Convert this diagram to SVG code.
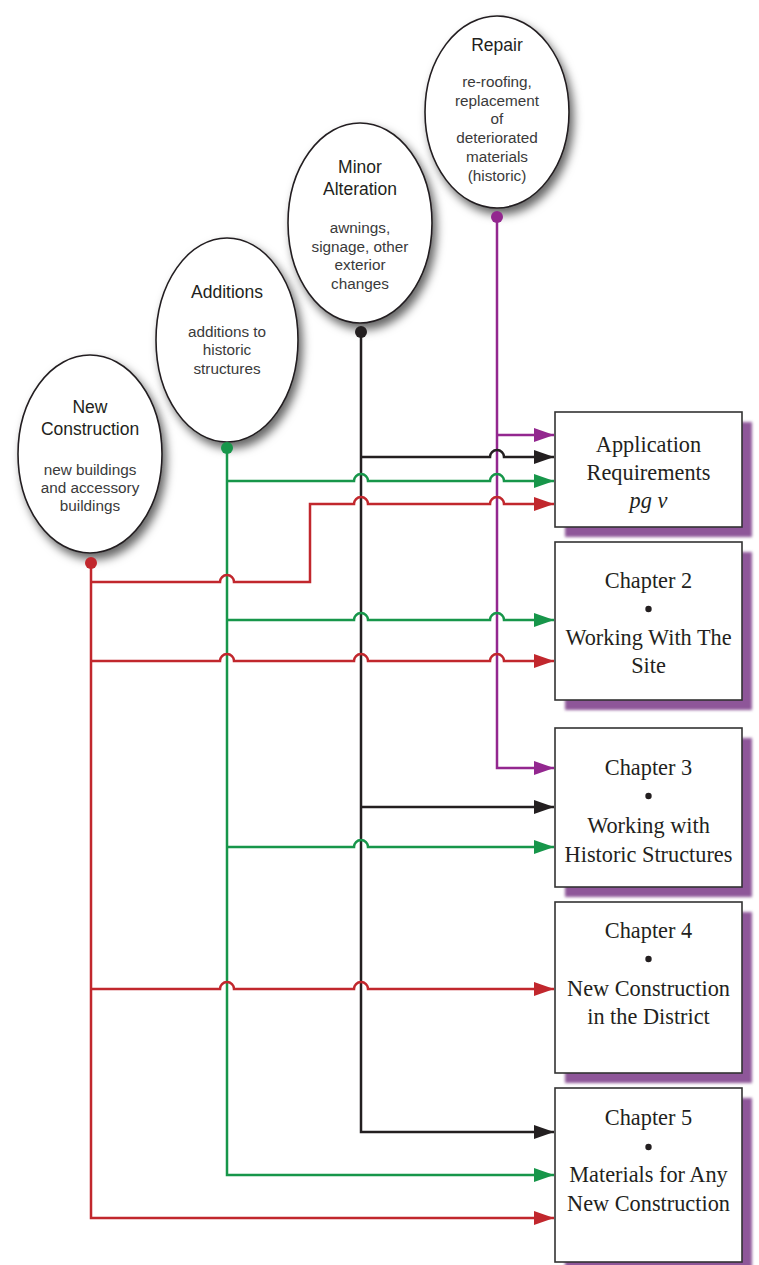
<svg xmlns="http://www.w3.org/2000/svg" width="759" height="1265" viewBox="0 0 759 1265">
<style>
.ell{fill:#fff;stroke:#231f20;stroke-width:1.6;filter:url(#eshadow)}
.box{fill:#fff;stroke:#333;stroke-width:1.6}
.boxsh{fill:#8e5799;filter:url(#bshadow)}
.t{font-family:"Liberation Sans",Arial,sans-serif;font-size:17.5px;fill:#231f20;text-anchor:middle}
.d{font-family:"Liberation Sans",Arial,sans-serif;font-size:15.3px;fill:#3a3a3a;text-anchor:middle}
.b{font-family:"Liberation Serif","Times New Roman",serif;font-size:22.3px;fill:#231f20;text-anchor:middle}
.dot{fill:#231f20}
.c{fill:none;stroke-width:2.5}
.pu{stroke:#93278f}.bk{stroke:#231f20}.gr{stroke:#17964a}.rd{stroke:#c1272d}
</style>
<defs>
<filter id="eshadow" x="-25%" y="-25%" width="160%" height="160%">
<feDropShadow dx="4" dy="6" stdDeviation="5" flood-color="#000" flood-opacity="0.6"/>
</filter>
<filter id="bshadow" x="-10%" y="-10%" width="120%" height="120%">
<feGaussianBlur stdDeviation="1.8"/>
</filter>
<marker id="apu" viewBox="0 0 20 14" refX="20" refY="7" markerWidth="20" markerHeight="14" markerUnits="userSpaceOnUse" orient="auto"><path d="M0,0 L20,7 L0,14 Z" fill="#93278f"/></marker>
<marker id="abk" viewBox="0 0 20 14" refX="20" refY="7" markerWidth="20" markerHeight="14" markerUnits="userSpaceOnUse" orient="auto"><path d="M0,0 L20,7 L0,14 Z" fill="#231f20"/></marker>
<marker id="agr" viewBox="0 0 20 14" refX="20" refY="7" markerWidth="20" markerHeight="14" markerUnits="userSpaceOnUse" orient="auto"><path d="M0,0 L20,7 L0,14 Z" fill="#17964a"/></marker>
<marker id="ard" viewBox="0 0 20 14" refX="20" refY="7" markerWidth="20" markerHeight="14" markerUnits="userSpaceOnUse" orient="auto"><path d="M0,0 L20,7 L0,14 Z" fill="#c1272d"/></marker>
</defs>

<g id="node-repair">
<ellipse class="ell" cx="497" cy="112" rx="72" ry="96"/>
<text class="t" x="497" y="51">Repair</text>
<text class="d" x="497" y="87">re-roofing,</text>
<text class="d" x="497" y="106">replacement</text>
<text class="d" x="497" y="124">of</text>
<text class="d" x="497" y="143">deteriorated</text>
<text class="d" x="497" y="162">materials</text>
<text class="d" x="497" y="181">(historic)</text>
</g>
<g id="node-minor">
<ellipse class="ell" cx="360" cy="223" rx="72" ry="100"/>
<text class="t" x="360" y="173">Minor</text>
<text class="t" x="360" y="195">Alteration</text>
<text class="d" x="360" y="233">awnings,</text>
<text class="d" x="360" y="252">signage, other</text>
<text class="d" x="360" y="270">exterior</text>
<text class="d" x="360" y="289">changes</text>
</g>
<g id="node-additions">
<ellipse class="ell" cx="227" cy="340" rx="71" ry="102"/>
<text class="t" x="227" y="298">Additions</text>
<text class="d" x="227" y="337">additions to</text>
<text class="d" x="227" y="355">historic</text>
<text class="d" x="227" y="374">structures</text>
</g>
<g id="node-new">
<ellipse class="ell" cx="90" cy="454" rx="72" ry="99"/>
<text class="t" x="90" y="413">New</text>
<text class="t" x="90" y="435">Construction</text>
<text class="d" x="90" y="475">new buildings</text>
<text class="d" x="90" y="493">and accessory</text>
<text class="d" x="90" y="511">buildings</text>
</g>

<g id="box-app">
<rect class="boxsh" x="565" y="422" width="187" height="115"/>
<rect class="box" x="555" y="412" width="187" height="115"/>
<text class="b" x="648.5" y="452">Application</text>
<text class="b" x="648.5" y="480">Requirements</text>
<text class="b" x="648.5" y="508" font-style="italic">pg v</text>
</g>
<g id="box-ch2">
<rect class="boxsh" x="565" y="552" width="187" height="158"/>
<rect class="box" x="555" y="542" width="187" height="158"/>
<text class="b" x="648.5" y="588">Chapter 2</text>
<circle class="dot" cx="648.5" cy="609" r="3.2"/>
<text class="b" x="648.5" y="645">Working With The</text>
<text class="b" x="648.5" y="673">Site</text>
</g>
<g id="box-ch3">
<rect class="boxsh" x="565" y="738" width="187" height="159"/>
<rect class="box" x="555" y="728" width="187" height="159"/>
<text class="b" x="648.5" y="775">Chapter 3</text>
<circle class="dot" cx="648.5" cy="796" r="3.2"/>
<text class="b" x="648.5" y="833">Working with</text>
<text class="b" x="648.5" y="862">Historic Structures</text>
</g>
<g id="box-ch4">
<rect class="boxsh" x="565" y="912" width="187" height="171"/>
<rect class="box" x="555" y="902" width="187" height="171"/>
<text class="b" x="648.5" y="938">Chapter 4</text>
<circle class="dot" cx="648.5" cy="959" r="3.2"/>
<text class="b" x="648.5" y="996">New Construction</text>
<text class="b" x="648.5" y="1024">in the District</text>
</g>
<g id="box-ch5">
<rect class="boxsh" x="565" y="1098" width="187" height="174"/>
<rect class="box" x="555" y="1088" width="187" height="174"/>
<text class="b" x="648.5" y="1125">Chapter 5</text>
<circle class="dot" cx="648.5" cy="1147" r="3.2"/>
<text class="b" x="648.5" y="1182">Materials for Any</text>
<text class="b" x="648.5" y="1211">New Construction</text>
</g>

<g id="connectors">
<path class="c pu" d="M497,217 V768 H554" marker-end="url(#apu)"/>
<path class="c pu" d="M497,435 H554" marker-end="url(#apu)"/>

<path class="c bk" d="M361,332 V1132 H554" marker-end="url(#abk)"/>
<path class="c bk" d="M361,457 H490 A7,7 0 0 1 504,457 H554" marker-end="url(#abk)"/>
<path class="c bk" d="M361,807 H554" marker-end="url(#abk)"/>

<path class="c gr" d="M227,448 V1175 H554" marker-end="url(#agr)"/>
<path class="c gr" d="M227,481 H354 A7,7 0 0 1 368,481 H490 A7,7 0 0 1 504,481 H554" marker-end="url(#agr)"/>
<path class="c gr" d="M227,620 H354 A7,7 0 0 1 368,620 H490 A7,7 0 0 1 504,620 H554" marker-end="url(#agr)"/>
<path class="c gr" d="M227,847 H354 A7,7 0 0 1 368,847 H554" marker-end="url(#agr)"/>

<path class="c rd" d="M91,563 V1218 H554" marker-end="url(#ard)"/>
<path class="c rd" d="M91,582 H220 A7,7 0 0 1 234,582 H310 V504 H354 A7,7 0 0 1 368,504 H490 A7,7 0 0 1 504,504 H554" marker-end="url(#ard)"/>
<path class="c rd" d="M91,661 H220 A7,7 0 0 1 234,661 H354 A7,7 0 0 1 368,661 H490 A7,7 0 0 1 504,661 H554" marker-end="url(#ard)"/>
<path class="c rd" d="M91,989 H220 A7,7 0 0 1 234,989 H354 A7,7 0 0 1 368,989 H554" marker-end="url(#ard)"/>

<circle cx="497" cy="217" r="6" fill="#93278f"/>
<circle cx="361" cy="332" r="6" fill="#231f20"/>
<circle cx="227" cy="448" r="6" fill="#17964a"/>
<circle cx="91" cy="563" r="6" fill="#c1272d"/>
</g>
</svg>
